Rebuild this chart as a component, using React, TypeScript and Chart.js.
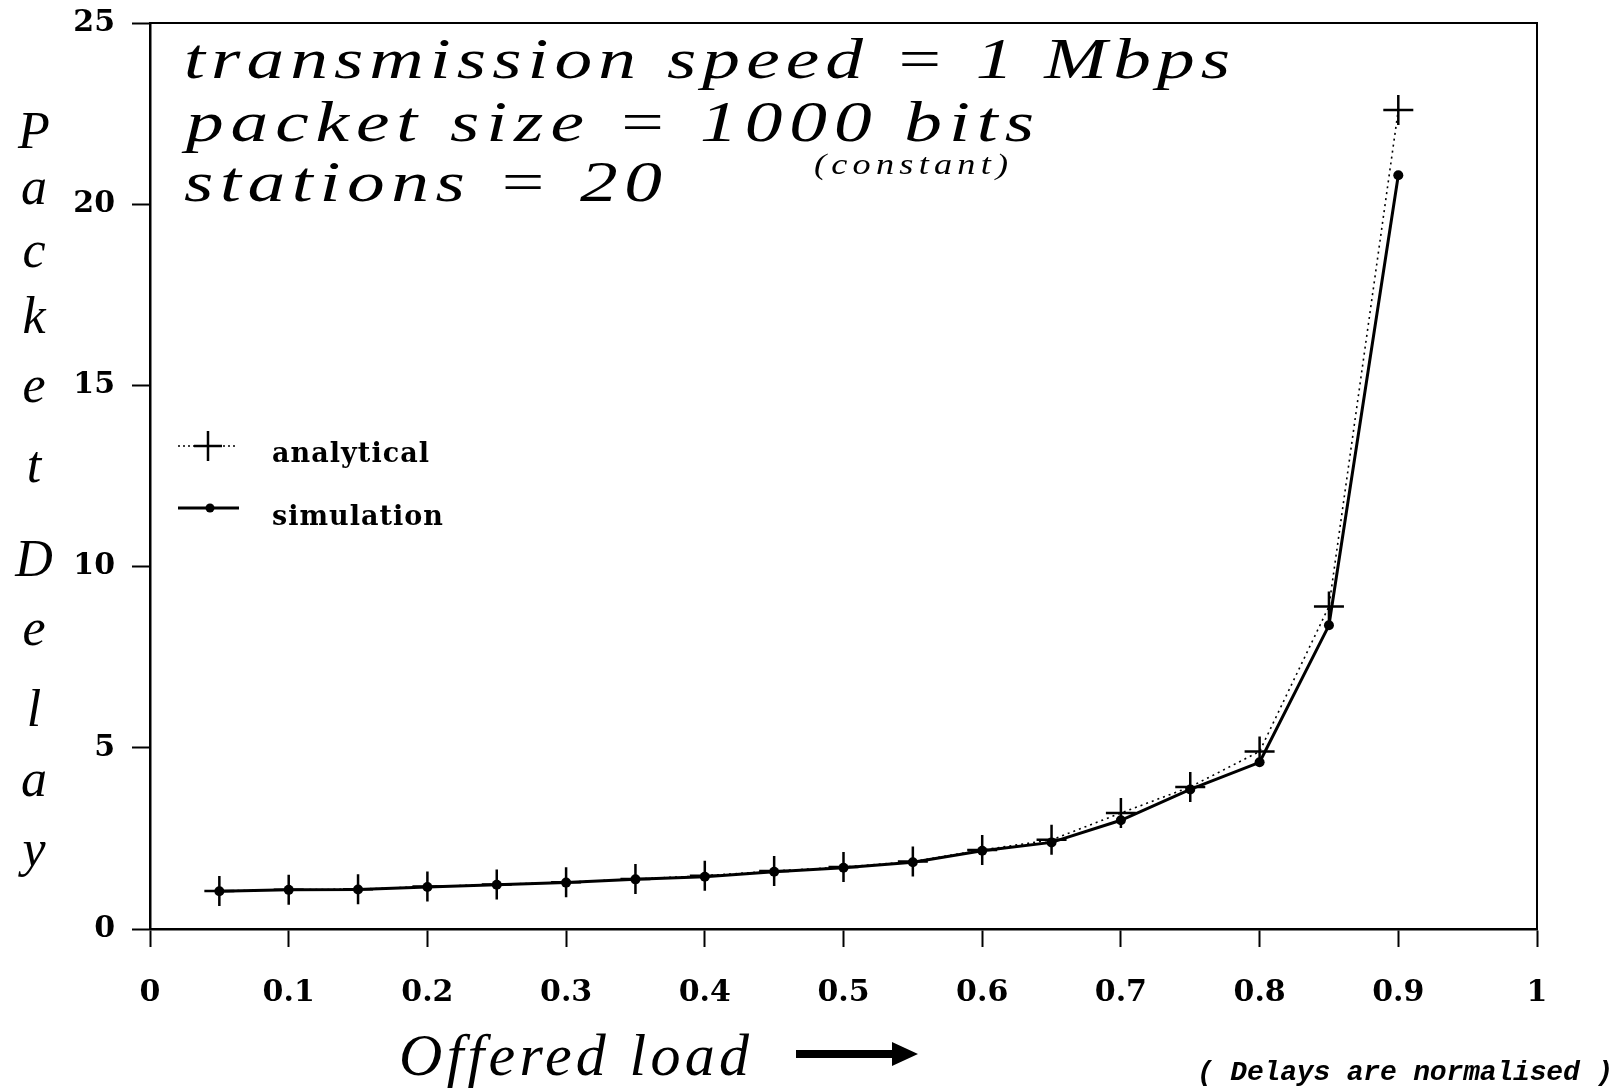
import React, { useEffect, useRef } from "react";
import { Chart, registerables } from "chart.js";

Chart.register(...registerables);

// ---------- data ----------
const offeredLoad = [0.05, 0.1, 0.15, 0.2, 0.25, 0.3, 0.35, 0.4, 0.45, 0.5, 0.55, 0.6, 0.65, 0.7, 0.75, 0.8, 0.85, 0.9];
const analyticalDelay = [1.05, 1.08, 1.1, 1.17, 1.23, 1.29, 1.38, 1.47, 1.6, 1.71, 1.86, 2.18, 2.46, 3.2, 3.92, 4.9, 8.9, 22.6];
const simulationDelay = [1.04, 1.08, 1.09, 1.16, 1.22, 1.28, 1.37, 1.44, 1.58, 1.69, 1.84, 2.16, 2.39, 3.0, 3.85, 4.6, 8.38, 20.8];
const xTickValues = [0, 0.1, 0.2, 0.3, 0.4, 0.5, 0.6, 0.7, 0.8, 0.9, 1];
const yTickValues = [0, 5, 10, 15, 20, 25];
const seriesNames = ["analytical", "simulation"];
const titleLines = ["transmission speed = 1 Mbps", "packet size = 1000 bits", "stations = 20"];
const titleNote = "(constant)";
const yTitle = "PacketDelay";
const xTitle = "Offered load";
const footNote = "( Delays are normalised )";

// ---------- layout constants ----------
const W = 1621;
const H = 1090;
const yTitleBaselines = [148, 204, 267, 333, 402, 482, 576, 645, 726, 796, 866];

function fitText(
  ctx: CanvasRenderingContext2D,
  text: string,
  x: number,
  y: number,
  width: number,
  font: string,
  stretch = 1
) {
  ctx.save();
  ctx.font = font;
  ctx.fillStyle = "#000";
  ctx.textAlign = "left";
  ctx.textBaseline = "alphabetic";
  const w = ctx.measureText(text).width;
  const n = text.length;
  const anyCtx = ctx as any;
  ctx.translate(x, y);
  if ("letterSpacing" in anyCtx && n > 1) {
    ctx.scale(stretch, 1);
    anyCtx.letterSpacing = (width / stretch - w) / (n - 1) + "px";
    ctx.fillText(text, 0, 0);
  } else {
    ctx.scale(width / w, 1);
    ctx.fillText(text, 0, 0);
  }
  ctx.restore();
}

const decorPlugin = {
  id: "decor",
  afterDraw(chart: any) {
    const ctx: CanvasRenderingContext2D = chart.ctx;
    const { left, right, top, bottom } = chart.chartArea;
    ctx.save();
    // frame top & right
    ctx.strokeStyle = "#000";
    ctx.lineWidth = 2;
    ctx.beginPath();
    ctx.moveTo(left, top);
    ctx.lineTo(right, top);
    ctx.lineTo(right, bottom);
    ctx.stroke();

    // title block
    const titleFont = "italic 58px 'Liberation Serif'";
    fitText(ctx, titleLines[0], 184, 78, 1046, titleFont, 1.3);
    fitText(ctx, titleLines[1], 186, 141, 848, titleFont, 1.3);
    fitText(ctx, titleLines[2], 184, 201, 478, titleFont, 1.3);
    fitText(ctx, titleNote, 814, 174, 194, "italic 29px 'Liberation Serif'", 1.25);

    // y title, stacked letters
    ctx.font = "italic 52px 'Liberation Serif'";
    ctx.fillStyle = "#000";
    ctx.textAlign = "center";
    ctx.textBaseline = "alphabetic";
    for (let i = 0; i < yTitle.length; i++) {
      ctx.fillText(yTitle[i], 34, yTitleBaselines[i]);
    }

    // x title + arrow
    fitText(ctx, xTitle, 399, 1075, 350, "italic 60px 'Liberation Serif'");
    ctx.fillStyle = "#000";
    ctx.beginPath();
    ctx.moveTo(796, 1050);
    ctx.lineTo(892, 1050);
    ctx.lineTo(892, 1042);
    ctx.lineTo(918, 1054);
    ctx.lineTo(892, 1066);
    ctx.lineTo(892, 1058);
    ctx.lineTo(796, 1058);
    ctx.closePath();
    ctx.fill();

    // foot note
    fitText(ctx, footNote, 1197, 1080, 416, "italic bold 28px 'Liberation Mono'");

    // legend
    ctx.strokeStyle = "#000";
    ctx.lineWidth = 1.6;
    ctx.setLineDash([2, 3]);
    ctx.beginPath();
    ctx.moveTo(178, 446);
    ctx.lineTo(238, 446);
    ctx.stroke();
    ctx.setLineDash([]);
    ctx.lineWidth = 2.5;
    ctx.beginPath();
    ctx.moveTo(208, 431);
    ctx.lineTo(208, 461);
    ctx.moveTo(194, 446);
    ctx.lineTo(222, 446);
    ctx.stroke();

    ctx.lineWidth = 2.8;
    ctx.beginPath();
    ctx.moveTo(178, 508);
    ctx.lineTo(239, 508);
    ctx.stroke();
    ctx.beginPath();
    ctx.arc(210, 508, 4.5, 0, Math.PI * 2);
    ctx.fill();

    const legendFont = "bold 27px 'DejaVu Serif'";
    fitText(ctx, seriesNames[0], 272, 462, 157, legendFont);
    fitText(ctx, seriesNames[1], 272, 525, 171, legendFont);
    ctx.restore();
  },
};

function fmt(v: number) {
  return String(Number(v.toFixed(1)));
}

export default function App() {
  const ref = useRef<HTMLCanvasElement | null>(null);

  useEffect(() => {
    document.body.style.margin = "0";
    document.body.style.overflow = "hidden";
    const canvas = ref.current;
    if (!canvas) return;
    const tickFont = { family: "'DejaVu Serif'", size: 30, weight: "bold" as const };
    const chart = new Chart(canvas, {
      type: "line",
      data: {
        datasets: [
          {
            label: seriesNames[0],
            data: offeredLoad.map((x, i) => ({ x, y: analyticalDelay[i] })),
            borderColor: "#000",
            borderWidth: 1.6,
            borderDash: [2, 4],
            pointStyle: "cross",
            pointRadius: 15,
            pointBorderWidth: 2.5,
            pointBorderColor: "#000",
            pointBackgroundColor: "#000",
            tension: 0,
          },
          {
            label: seriesNames[1],
            data: offeredLoad.map((x, i) => ({ x, y: simulationDelay[i] })),
            borderColor: "#000",
            borderWidth: 3,
            pointStyle: "circle",
            pointRadius: 5,
            pointBorderWidth: 0,
            pointBackgroundColor: "#000",
            pointBorderColor: "#000",
            tension: 0,
          },
        ],
      },
      options: {
        responsive: false,
        animation: false,
        events: [],
        layout: { padding: { left: 0, right: 84, top: 23, bottom: 0 } },
        plugins: {
          legend: { display: false },
          tooltip: { enabled: false },
        },
        scales: {
          x: {
            type: "linear",
            min: 0,
            max: 1,
            afterBuildTicks: (scale: any) => {
              scale.ticks = xTickValues.map((value) => ({ value }));
            },
            afterFit: (scale: any) => {
              scale.height = 161;
              scale.paddingLeft = 0;
              scale.paddingRight = 0;
            },
            ticks: {
              color: "#000",
              font: tickFont,
              padding: 28,
              maxRotation: 0,
              autoSkip: false,
              callback: (v: any) => fmt(Number(v)),
            },
            grid: {
              drawOnChartArea: false,
              drawTicks: true,
              tickLength: 18,
              tickColor: "#000",
              tickWidth: 2,
              color: "#000",
            },
            border: { display: true, color: "#000", width: 2.5 },
          },
          y: {
            type: "linear",
            min: 0,
            max: 25,
            afterBuildTicks: (scale: any) => {
              scale.ticks = yTickValues.map((value) => ({ value }));
            },
            afterFit: (scale: any) => {
              scale.width = 150;
              scale.paddingTop = 0;
              scale.paddingBottom = 0;
            },
            ticks: {
              color: "#000",
              font: tickFont,
              padding: 17,
              autoSkip: false,
              callback: (v: any) => String(v),
            },
            grid: {
              drawOnChartArea: false,
              drawTicks: true,
              tickLength: 18,
              tickColor: "#000",
              tickWidth: 2,
              color: "#000",
            },
            border: { display: true, color: "#000", width: 2.5 },
          },
        },
      },
      plugins: [decorPlugin],
    } as any);
    return () => chart.destroy();
  }, []);

  return (
    <div style={{ position: "absolute", left: 0, top: 0, width: W, height: H, background: "#fff" }}>
      <canvas ref={ref} width={W} height={H} style={{ width: W, height: H, display: "block" }} />
    </div>
  );
}
